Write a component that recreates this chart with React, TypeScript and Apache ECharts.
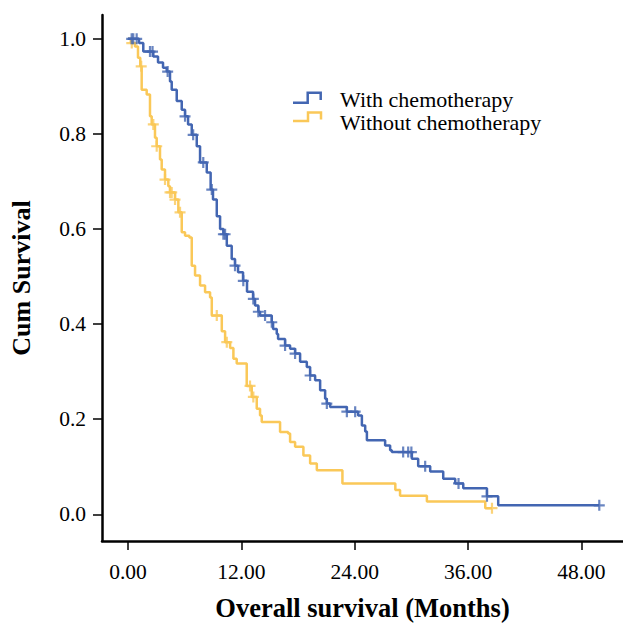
import React, { useEffect, useRef } from "react";
import * as echarts from "echarts";

const xTicks = [0, 12, 24, 36, 48];
const yTicks = [0, 0.2, 0.4, 0.6, 0.8, 1.0];

const seriesNames = ["With chemotherapy", "Without chemotherapy"];

// [month of drop, survival after drop]
const withChemoSteps: [number, number][] = [
  [0, 1.0], [1.17, 0.991], [1.62, 0.973], [2.68, 0.963], [3.18, 0.95], [3.71, 0.939],
  [4.1, 0.931], [4.45, 0.91], [4.63, 0.893], [5.16, 0.869], [5.69, 0.851], [6.04, 0.837],
  [6.36, 0.82], [6.75, 0.798], [7.28, 0.774], [7.63, 0.74], [8.34, 0.719], [8.75, 0.683],
  [9.0, 0.662], [9.4, 0.627], [9.75, 0.6], [10.1, 0.589], [10.46, 0.565], [10.98, 0.537],
  [11.33, 0.523], [11.65, 0.509], [12.18, 0.491], [12.6, 0.468], [13.24, 0.453], [13.45, 0.439],
  [13.8, 0.426], [13.98, 0.418], [15.22, 0.404], [15.36, 0.39], [15.75, 0.379], [15.89, 0.369],
  [16.63, 0.355], [17.16, 0.348], [17.69, 0.338], [18.22, 0.321], [18.93, 0.31], [19.28, 0.292],
  [19.81, 0.282], [20.34, 0.261], [20.87, 0.243], [21.05, 0.233], [21.4, 0.226], [23.17, 0.216],
  [24.36, 0.208], [24.76, 0.187], [25.11, 0.174], [25.29, 0.156], [27.22, 0.145], [27.75, 0.135],
  [27.93, 0.131], [30.05, 0.117], [30.72, 0.101], [31.99, 0.09], [33.37, 0.075], [34.64, 0.065],
  [35.49, 0.055], [38.0, 0.038], [39.19, 0.019], [49.89, 0.019],
];
const withChemoCensored: [number, number][] = [
  [0.39, 1.0], [0.56, 1.0], [0.92, 1.0], [2.33, 0.973], [2.6, 0.973], [4.2, 0.931],
  [6.04, 0.837], [6.9, 0.798], [7.97, 0.74], [8.87, 0.683], [10.1, 0.589], [10.28, 0.589],
  [11.33, 0.523], [12.21, 0.491], [13.27, 0.453], [13.8, 0.426], [14.51, 0.418], [15.22, 0.404],
  [16.63, 0.355], [17.69, 0.338], [19.28, 0.292], [21.05, 0.233], [23.17, 0.216], [24.05, 0.216],
  [29.13, 0.131], [29.66, 0.131], [30.0, 0.131], [31.46, 0.101], [34.99, 0.065], [38.0, 0.038],
  [49.89, 0.019],
];

const withoutChemoSteps: [number, number][] = [
  [0, 1.0], [0.3, 0.991], [0.74, 0.984], [1.06, 0.96], [1.3, 0.942], [1.45, 0.893],
  [1.98, 0.883], [2.33, 0.837], [2.51, 0.82], [2.86, 0.792], [3.04, 0.774], [3.39, 0.746],
  [3.57, 0.725], [3.92, 0.704], [4.27, 0.69], [4.45, 0.677], [4.98, 0.662], [5.33, 0.635],
  [5.69, 0.593], [6.04, 0.586], [6.5, 0.582], [6.75, 0.523], [7.1, 0.502], [7.63, 0.481],
  [8.16, 0.467], [8.69, 0.456], [8.87, 0.418], [9.93, 0.385], [10.28, 0.362], [10.81, 0.35],
  [11.16, 0.327], [11.51, 0.317], [12.57, 0.27], [13.1, 0.247], [13.63, 0.222], [13.98, 0.208],
  [14.16, 0.194], [16.1, 0.173], [16.95, 0.17], [17.16, 0.152], [17.69, 0.142], [18.57, 0.124],
  [19.28, 0.107], [19.99, 0.093], [22.7, 0.065], [28.3, 0.051], [28.8, 0.039], [31.64, 0.027],
  [37.82, 0.013], [38.53, 0.013],
];
const withoutChemoCensored: [number, number][] = [
  [0.4, 0.991], [1.4, 0.942], [2.68, 0.82], [3.04, 0.774], [3.92, 0.704], [4.45, 0.677],
  [4.63, 0.677], [4.98, 0.662], [5.51, 0.635], [9.4, 0.418], [10.46, 0.362], [12.92, 0.27],
  [13.27, 0.247], [38.53, 0.013],
];

const BLUE = "#4366b2";
const YELLOW = "#fac858";
const FONT = "Liberation Serif";
const PLUS = "path://M4,0H6V4H10V6H6V10H4V6H0V4H4Z";

export default function App() {
  const ref = useRef<HTMLDivElement>(null);
  useEffect(() => {
    if (!ref.current) return;
    const chart = echarts.init(ref.current, null, { renderer: "svg" });
    const axisCommon = {
      type: "value" as const,
      nameLocation: "middle" as const,
      nameTextStyle: { fontFamily: FONT, fontSize: 26, fontWeight: "bold" as const, color: "#000" },
      axisLine: { show: true, onZero: false, lineStyle: { color: "#000", width: 2.5 } },
      splitLine: { show: false },
    };
    chart.setOption({
      animation: false,
      backgroundColor: "#fff",
      grid: { left: 102, right: 0, top: 15, bottom: 83.3 },
      xAxis: {
        ...axisCommon,
        min: -2.75,
        max: 52.4,
        name: "Overall survival (Months)",
        nameGap: 53,
        nameTextStyle: { fontFamily: FONT, fontSize: 26.5, fontWeight: "bold" as const, color: "#000" },
        axisTick: { show: true, customValues: xTicks, length: 9, lineStyle: { color: "#000", width: 1.5 } },
        axisLabel: {
          customValues: xTicks,
          formatter: (v: number) => v.toFixed(2),
          fontFamily: FONT,
          fontSize: 21.5,
          color: "#000",
          margin: 20,
        },
      },
      yAxis: {
        ...axisCommon,
        min: -0.056,
        max: 1.05,
        name: "Cum Survival",
        nameGap: 68,
        axisTick: { show: true, customValues: yTicks, length: 9, lineStyle: { color: "#000", width: 1.5 } },
        axisLabel: {
          customValues: yTicks,
          formatter: (v: number) => v.toFixed(1),
          fontFamily: FONT,
          fontSize: 21.5,
          color: "#000",
          margin: 16,
        },
      },
      series: [
        {
          name: seriesNames[1],
          type: "line",
          step: "end",
          data: withoutChemoSteps,
          showSymbol: false,
          lineStyle: { color: YELLOW, width: 2.5 },
          z: 2,
        },
        {
          name: seriesNames[1] + " censored",
          type: "scatter",
          data: withoutChemoCensored,
          symbol: PLUS,
          symbolSize: 11,
          itemStyle: { color: YELLOW },
          z: 2,
        },
        {
          name: seriesNames[0],
          type: "line",
          step: "end",
          data: withChemoSteps,
          showSymbol: false,
          lineStyle: { color: BLUE, width: 2.5 },
          z: 3,
        },
        {
          name: seriesNames[0] + " censored",
          type: "scatter",
          data: withChemoCensored,
          symbol: PLUS,
          symbolSize: 11,
          itemStyle: { color: BLUE },
          z: 3,
        },
      ],
      graphic: [
        {
          type: "polyline",
          shape: { points: [[293, 102.7], [307.7, 102.7], [307.7, 92.7], [320.7, 92.7], [320.7, 100]] },
          style: { stroke: BLUE, lineWidth: 2.5, fill: "none" },
        },
        {
          type: "polyline",
          shape: { points: [[293, 121], [308, 121], [308, 112.5], [321, 112.5], [321, 119.5]] },
          style: { stroke: YELLOW, lineWidth: 2.5, fill: "none" },
        },
        {
          type: "text",
          x: 340,
          y: 99,
          style: { text: seriesNames[0], font: `22px '${FONT}'`, fill: "#000", verticalAlign: "middle" },
        },
        {
          type: "text",
          x: 340,
          y: 122,
          style: { text: seriesNames[1], font: `22px '${FONT}'`, fill: "#000", verticalAlign: "middle" },
        },
      ],
    });
    return () => chart.dispose();
  }, []);
  return (
    <div
      ref={ref}
      style={{ position: "fixed", left: 0, top: 0, width: 623, height: 626, background: "#fff" }}
    />
  );
}
